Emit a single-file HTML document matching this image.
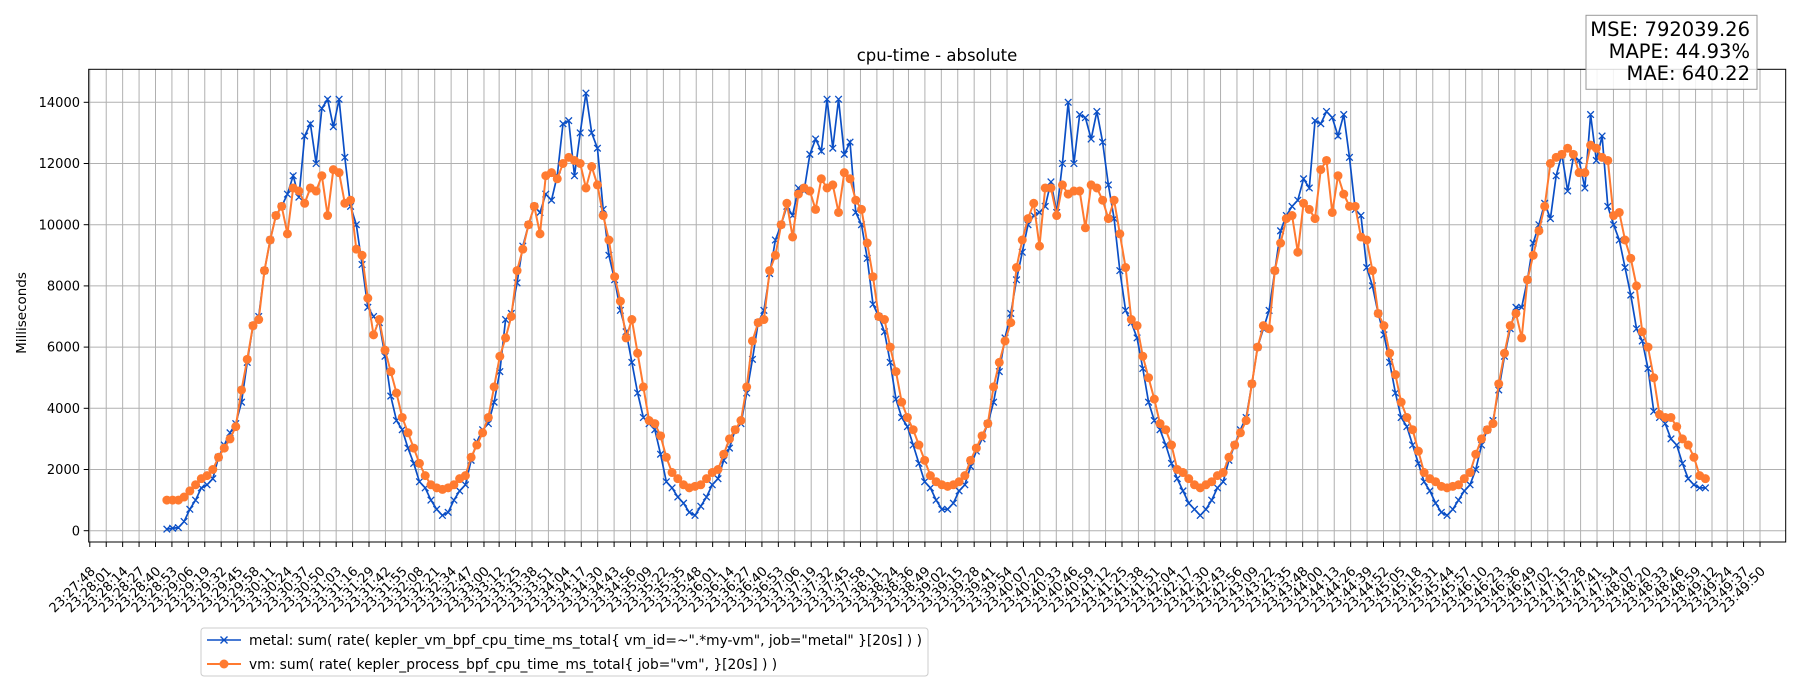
<!DOCTYPE html>
<html><head><meta charset="utf-8"><style>
html,body{margin:0;padding:0;background:#fff;}
svg{display:block;font-family:"DejaVu Sans","Liberation Sans",sans-serif;}
</style></head><body>
<svg id="chart" width="1800" height="700" viewBox="0 0 1800 700">
<rect x="0" y="0" width="1800" height="700" fill="#fff"/>
<g id="grid"></g>
<g id="series"></g>
<rect x="88.7" y="69.3" width="1697" height="472.7" fill="none" stroke="#000" stroke-width="1"/>
<g id="axes"></g>
<text x="937" y="61" text-anchor="middle" font-size="16.5">cpu-time - absolute</text>
<text x="0" y="0" transform="translate(26,313) rotate(-90)" text-anchor="middle" font-size="13.5">Milliseconds</text>
<g>
<rect x="1586" y="15.3" width="171" height="74" fill="#fff" fill-opacity="0.85" stroke="#999" stroke-width="1"/>
<text x="1750" y="36" text-anchor="end" font-size="19.5">MSE: 792039.26</text>
<text x="1750" y="58" text-anchor="end" font-size="19.5">MAPE: 44.93%</text>
<text x="1750" y="80" text-anchor="end" font-size="19.5">MAE: 640.22</text>
</g>
<g>
<rect x="201" y="628" width="727" height="48" rx="3" fill="#fff" stroke="#ccc" stroke-width="1"/>
<g>
<line x1="207" y1="640" x2="241" y2="640" stroke="#0b4fc6" stroke-width="1.6"/>
<path d="M220.5,636.5 L227.5,643.5 M227.5,636.5 L220.5,643.5" stroke="#0b4fc6" stroke-width="1.4"/>
<text x="249" y="645" font-size="13.8">metal: sum( rate( kepler_vm_bpf_cpu_time_ms_total{ vm_id=~".*my-vm", job="metal" }[20s] ) )</text>
</g>
<g>
<line x1="207" y1="664" x2="241" y2="664" stroke="#ff7a30" stroke-width="2"/>
<circle cx="224" cy="664" r="4.5" fill="#ff7a30"/>
<text x="249" y="669" font-size="13.8">vm: sum( rate( kepler_process_bpf_cpu_time_ms_total{ job="vm", }[20s] ) )</text>
</g>
</g>
</svg>
<script>
const tickLabels = ["23:27:48","23:28:01","23:28:14","23:28:27","23:28:40","23:28:53","23:29:06","23:29:19","23:29:32","23:29:45","23:29:58","23:30:11","23:30:24","23:30:37","23:30:50","23:31:03","23:31:16","23:31:29","23:31:42","23:31:55","23:32:08","23:32:21","23:32:34","23:32:47","23:33:00","23:33:12","23:33:25","23:33:38","23:33:51","23:34:04","23:34:17","23:34:30","23:34:43","23:34:56","23:35:09","23:35:22","23:35:35","23:35:48","23:36:01","23:36:14","23:36:27","23:36:40","23:36:53","23:37:06","23:37:19","23:37:32","23:37:45","23:37:58","23:38:11","23:38:24","23:38:36","23:38:49","23:39:02","23:39:15","23:39:28","23:39:41","23:39:54","23:40:07","23:40:20","23:40:33","23:40:46","23:40:59","23:41:12","23:41:25","23:41:38","23:41:51","23:42:04","23:42:17","23:42:30","23:42:43","23:42:56","23:43:09","23:43:22","23:43:35","23:43:48","23:44:00","23:44:13","23:44:26","23:44:39","23:44:52","23:45:05","23:45:18","23:45:31","23:45:44","23:45:57","23:46:10","23:46:23","23:46:36","23:46:49","23:47:02","23:47:15","23:47:28","23:47:41","23:47:54","23:48:07","23:48:20","23:48:33","23:48:46","23:48:59","23:49:12","23:49:24","23:49:37","23:49:50"];
const yTicks = [0,2000,4000,6000,8000,10000,12000,14000];
const seriesStart = "23:28:49";
const seriesStepSec = 4.544;
const metal = [50,80,100,300,700,1000,1400,1500,1700,2400,2800,3200,3500,4200,5500,6700,7000,8500,9500,10300,10600,11000,11600,10900,12900,13300,12000,13800,14100,13200,14100,12200,10600,10000,8700,7300,7000,6800,5700,4400,3600,3300,2700,2200,1600,1400,1000,700,500,600,1000,1300,1500,2300,
2900,3300,3500,4200,5200,6900,7100,8100,9300,10000,10600,10400,11000,10800,11600,13300,13400,11600,13000,14300,13000,12500,10500,9000,8200,7200,6500,5500,4500,3700,3500,3300,2500,1600,1400,1100,900,600,500,800,1100,1500,1700,2300,
2700,3300,3500,4500,5600,6800,7200,8400,9500,10000,10600,10300,11200,11100,12300,12800,12400,14100,12500,14100,12300,12700,10400,10000,8900,7400,7000,6500,5500,4300,3700,3400,2800,2200,1600,1400,1000,700,700,900,1300,1500,2100,
2600,3000,3500,4200,5200,6300,7100,8200,9100,10000,10300,10400,10600,11400,10400,12000,14000,12000,13600,13500,12800,13700,12700,11300,10200,8500,7200,6800,6300,5300,4200,3600,3300,2800,2200,1700,1300,900,700,500,700,1000,1400,1600,
2300,2800,3300,3700,4800,6000,6600,7200,8500,9800,10300,10600,10800,11500,11200,13400,13300,13700,13500,12900,13600,12200,10500,10300,8600,8000,7100,6400,5500,4500,3700,3400,2800,2200,1600,1300,900,600,500,700,1000,1300,1500,2000,
2800,3300,3600,4600,5700,6600,7300,7300,8200,9400,10000,10700,10200,11600,12300,11100,12200,12100,11200,13600,12100,12900,10600,10000,9500,8600,7700,6600,6200,5300,3900,3700,3500,3000,2800,2200,1700,1500,1400,1400];
const vm = [1000,1000,1000,1100,1300,1500,1700,1800,2000,2400,2700,3000,3400,4600,5600,6700,6900,8500,9500,10300,10600,9700,11200,11100,10700,11200,11100,11600,10300,11800,11700,10700,10800,9200,9000,7600,6400,6900,5900,5200,4500,3700,3200,2700,2200,1800,1500,1400,1350,1400,1500,1700,1800,2400,
2800,3200,3700,4700,5700,6300,7000,8500,9200,10000,10600,9700,11600,11700,11500,12000,12200,12100,12000,11200,11900,11300,10300,9500,8300,7500,6300,6900,5800,4700,3600,3500,3100,2400,1900,1700,1500,1400,1450,1500,1700,1900,2000,2500,
3000,3300,3600,4700,6200,6800,6900,8500,9000,10000,10700,9600,11000,11200,11100,10500,11500,11200,11300,10400,11700,11500,10800,10500,9400,8300,7000,6900,6000,5200,4200,3700,3300,2800,2300,1800,1600,1500,1450,1500,1600,1800,2300,
2700,3100,3500,4700,5500,6200,6800,8600,9500,10200,10700,9300,11200,11200,10300,11300,11000,11100,11100,9900,11300,11200,10800,10200,10800,9700,8600,6900,6700,5700,5000,4300,3500,3300,2800,2000,1900,1700,1500,1400,1500,1600,1800,1900,
2400,2800,3200,3600,4800,6000,6700,6600,8500,9400,10200,10300,9100,10700,10500,10200,11800,12100,10400,11600,11000,10600,10600,9600,9500,8500,7100,6700,5800,5100,4200,3700,3300,2600,1900,1700,1600,1450,1400,1450,1500,1700,1900,2500,
3000,3300,3500,4800,5800,6700,7100,6300,8200,9000,9800,10600,12000,12200,12300,12500,12300,11700,11700,12600,12500,12200,12100,10300,10400,9500,8900,8000,6500,6000,5000,3800,3700,3700,3400,3000,2800,2400,1800,1700];

const NS = "http://www.w3.org/2000/svg";
function toSec(s){const p=s.split(":").map(Number);return p[0]*3600+p[1]*60+p[2];}
const T0 = toSec(tickLabels[0]);
const T1 = toSec(tickLabels[tickLabels.length-1]);
const X0 = 89.8, X1 = 1760;
function xScale(t){return X0 + (t - T0) * (X1 - X0) / (T1 - T0);}
function yScale(v){return 530.7 - v * (428.4 / 14000);}
function mk(tag, attrs, parent){const e=document.createElementNS(NS,tag);for(const k in attrs)e.setAttribute(k,attrs[k]);parent.appendChild(e);return e;}

const grid = document.getElementById("grid");
const axes = document.getElementById("axes");
tickLabels.forEach(function(lbl){
  const x = xScale(toSec(lbl));
  const gl = mk("line",{x1:x,y1:69.3,x2:x,y2:542,stroke:"#b0b0b0","stroke-width":1},grid);
  
  
  const tk = mk("line",{x1:x,y1:542,x2:x,y2:547,stroke:"#000","stroke-width":1},axes);
  
  
  const tx = mk("text",{x:x+6,y:572,"text-anchor":"end","font-size":13,transform:"rotate(-45 "+(x+6)+" 572)"},axes);
  tx.textContent = lbl;
  
  
});
yTicks.forEach(function(v){
  const y = yScale(v);
  const gl = mk("line",{x1:88.7,y1:y,x2:1785.7,y2:y,stroke:"#b0b0b0","stroke-width":1},grid);
  
  
  const tk = mk("line",{x1:83.7,y1:y,x2:88.7,y2:y,stroke:"#000","stroke-width":1},axes);
  
  
  const tx = mk("text",{x:80,y:y+4.6,"text-anchor":"end","font-size":13},axes);
  tx.textContent = String(v);
  
  
});

const series = document.getElementById("series");
const S0 = toSec(seriesStart);
function pts(arr){return arr.map(function(v,i){return [xScale(S0 + i*seriesStepSec), yScale(v)];});}
const mp = pts(metal), vp = pts(vm);
const ml = mk("polyline",{points:mp.map(p=>p.join(",")).join(" "),fill:"none",stroke:"#0b4fc6","stroke-width":1.7},series);


let d = "";
mp.forEach(function(p){d += "M"+(p[0]-3.3)+","+(p[1]-3.3)+"L"+(p[0]+3.3)+","+(p[1]+3.3)+"M"+(p[0]+3.3)+","+(p[1]-3.3)+"L"+(p[0]-3.3)+","+(p[1]+3.3);});
const mm = mk("path",{d:d,stroke:"#0b4fc6","stroke-width":1.3,fill:"none"},series);


const vl = mk("polyline",{points:vp.map(p=>p.join(",")).join(" "),fill:"none",stroke:"#ff7a30","stroke-width":2},series);


vp.forEach(function(p){
  const c = mk("circle",{cx:p[0],cy:p[1],r:4.5,fill:"#ff7a30"},series);
  
  
});
</script>
</body></html>
